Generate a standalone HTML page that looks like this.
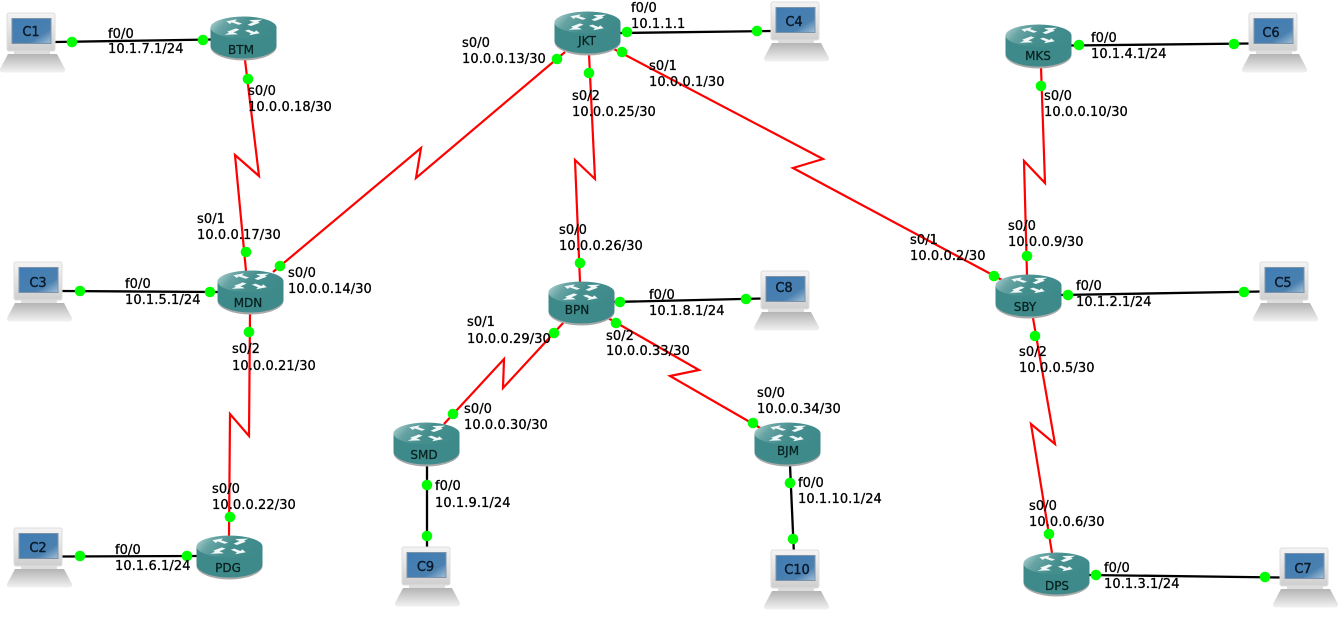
<!DOCTYPE html>
<html><head><meta charset="utf-8"><style>
html,body{margin:0;padding:0;background:#fff}
svg{display:block}
text{font-family:"DejaVu Sans","Liberation Sans",sans-serif;font-size:13px;fill:#000;stroke:#000;stroke-width:.3;letter-spacing:.08px}
.n{font-size:12px;text-anchor:middle;fill:#06201f;stroke:#06201f;stroke-width:.25;letter-spacing:0}
.c{font-size:13px;text-anchor:middle;fill:#0a1a2a;stroke:#0a1a2a;stroke-width:.4;letter-spacing:0}
.s{fill:none;stroke:#f00;stroke-width:2.2}
.e{stroke:#000;stroke-width:2.3}
.d circle{fill:#0f0}
</style></head><body>
<svg width="1344" height="628" viewBox="0 0 1344 628" xmlns="http://www.w3.org/2000/svg">
<defs>
<linearGradient id="top" x1="0" y1="0" x2="1" y2="0.3"><stop offset="0" stop-color="#bcdada"/><stop offset="0.28" stop-color="#68a4a4"/><stop offset="0.6" stop-color="#458e8e"/><stop offset="1" stop-color="#3f8b8b"/></linearGradient>
<linearGradient id="mon" x1="0" y1="0" x2="0" y2="1"><stop offset="0" stop-color="#f4f4f4"/><stop offset="1" stop-color="#cfcfcf"/></linearGradient>
<linearGradient id="base" x1="0" y1="0" x2="0" y2="1"><stop offset="0" stop-color="#b4b4b4"/><stop offset="1" stop-color="#f2f2f2"/></linearGradient>
<linearGradient id="scr" x1="0" y1="0" x2="1" y2="1"><stop offset="0" stop-color="#3f7cb4"/><stop offset="0.7" stop-color="#4a80b0"/><stop offset="1" stop-color="#a3c0d8"/></linearGradient>
<symbol id="r" width="67" height="46" viewBox="0 0 67 46" overflow="visible">
<path d="M0.5 11.500V31C0.5 38 15 44.500 33.500 44.500S66.500 38 66.500 31V11.500Z" fill="#a9a9a9"/>
<path d="M0.5 11.500V29.500C0.5 36.500 15 42.500 33.500 42.500S66.500 36.500 66.500 29.500V11.500Z" fill="#3e8a8a"/>
<ellipse cx="33.500" cy="11.500" rx="33" ry="11" fill="url(#top)"/>
<g transform="translate(4,0) scale(0.88 0.8)"><path d="M14 6.500L26 4L24 6.500L32 9.500L28 11L20 8L18 10ZM52 21.500L40 24L42 21.500L35 18.500L39 17L46 20L48 18ZM40 5L55 4.500L50 7L52 8.500L42 12.500L38 11L45 7.500L42 6.500ZM27 23L12 23.500L17 21L15 19.500L25 15.500L29 17L22 20.500L25 21.500Z" fill="#f2f8f8"/></g>
</symbol>
<symbol id="p" width="66" height="60" viewBox="0 0 66 60" overflow="visible">
<rect x="7" y="0" width="48" height="38" rx="2" fill="url(#mon)" stroke="#dedede"/>
<rect x="12" y="5.500" width="39" height="25" fill="url(#scr)" stroke="#7f93a8"/>
<rect x="14" y="38" width="36" height="4" fill="#dcdcdc"/>
<path d="M8 41H57L65 56Q65.500 59.500 62 59.500H3Q-0.500 59.500 0 56Z" fill="url(#base)"/>
</symbol>
</defs>

<g class="e">
<line x1="55" y1="42" x2="212" y2="39.500"/>
<line x1="620" y1="33" x2="772" y2="31"/>
<line x1="1070" y1="45.500" x2="1250" y2="43.500"/>
<line x1="62" y1="291" x2="218" y2="292"/>
<line x1="62" y1="556.500" x2="197" y2="556"/>
<line x1="612" y1="302" x2="762" y2="298.500"/>
<line x1="1060" y1="295" x2="1262" y2="291.500"/>
<line x1="1088" y1="575" x2="1282" y2="577.500"/>
<line x1="427" y1="466" x2="427" y2="552"/>
<line x1="790" y1="465" x2="794" y2="555"/>
</g>
<g class="s">
<polyline points="245,60 259,176 235,155 246,271"/>
<polyline points="565,52 416,178 421,148 273,272"/>
<polyline points="589,54 595,179 575,160 580,282"/>
<polyline points="612,48 823,159 793,168 1002,280"/>
<polyline points="1041,67 1045,183 1024,161 1027,275"/>
<polyline points="1033,318 1055,444 1031,424 1052,553"/>
<polyline points="250,313 249,436 230,414 229,536"/>
<polyline points="564,322 503,388 504,359 444,424"/>
<polyline points="608,318 699,370 670,376 762,429"/>
</g>

<use href="#p" x="0" y="13"/><text class="c" x="31" y="36">C1</text>
<use href="#p" x="7" y="262"/><text class="c" x="38" y="287">C3</text>
<use href="#p" x="7" y="528"/><text class="c" x="38" y="552">C2</text>
<use href="#p" x="764" y="2"/><text class="c" x="794" y="26">C4</text>
<use href="#p" x="1242" y="13"/><text class="c" x="1271" y="37">C6</text>
<use href="#p" x="754" y="271"/><text class="c" x="784" y="292">C8</text>
<use href="#p" x="1253" y="262"/><text class="c" x="1283" y="287">C5</text>
<use href="#p" x="395" y="547"/><text class="c" x="425.500" y="571">C9</text>
<use href="#p" x="764" y="550"/><text class="c" x="797" y="574">C10</text>
<use href="#p" x="1273" y="548"/><text class="c" x="1303" y="573">C7</text>

<use href="#r" x="210" y="16"/><text class="n" x="241" y="54">BTM</text>
<use href="#r" x="554" y="11"/><text class="n" x="587" y="45">JKT</text>
<use href="#r" x="1005" y="24"/><text class="n" x="1038" y="60">MKS</text>
<use href="#r" x="217" y="270"/><text class="n" x="248" y="307">MDN</text>
<use href="#r" x="548" y="281"/><text class="n" x="577" y="314">BPN</text>
<use href="#r" x="995" y="274"/><text class="n" x="1025" y="311">SBY</text>
<use href="#r" x="393" y="422"/><text class="n" x="424" y="459">SMD</text>
<use href="#r" x="754" y="422"/><text class="n" x="788" y="455">BJM</text>
<use href="#r" x="196" y="535"/><text class="n" x="228" y="572">PDG</text>
<use href="#r" x="1023" y="552"/><text class="n" x="1057" y="590">DPS</text>

<g class="d">
<circle cx="72" cy="42" r="5.300"/><circle cx="203" cy="40" r="5.300"/><circle cx="248" cy="79" r="5.300"/><circle cx="246" cy="252" r="5.300"/>
<circle cx="557" cy="59" r="5.300"/><circle cx="280" cy="266" r="5.300"/><circle cx="589" cy="73" r="5.300"/><circle cx="580" cy="263" r="5.300"/>
<circle cx="622" cy="52" r="5.300"/><circle cx="994" cy="276" r="5.300"/><circle cx="627" cy="32" r="5.300"/><circle cx="757" cy="31" r="5.300"/>
<circle cx="1079" cy="45" r="5.300"/><circle cx="1234" cy="44" r="5.300"/><circle cx="1041" cy="86" r="5.300"/><circle cx="1027" cy="256" r="5.300"/>
<circle cx="80" cy="291" r="5.300"/><circle cx="210" cy="292" r="5.300"/><circle cx="249" cy="332" r="5.300"/><circle cx="230" cy="517" r="5.300"/>
<circle cx="80" cy="556" r="5.300"/><circle cx="187" cy="556" r="5.300"/><circle cx="620" cy="302" r="5.300"/><circle cx="746" cy="299" r="5.300"/>
<circle cx="554" cy="333" r="5.300"/><circle cx="453" cy="414" r="5.300"/><circle cx="616" cy="323" r="5.300"/><circle cx="753" cy="423" r="5.300"/>
<circle cx="427" cy="485" r="5.300"/><circle cx="427" cy="536" r="5.300"/><circle cx="790" cy="483" r="5.300"/><circle cx="793" cy="539" r="5.300"/>
<circle cx="1068" cy="295" r="5.300"/><circle cx="1244" cy="292" r="5.300"/><circle cx="1035" cy="336" r="5.300"/><circle cx="1049" cy="534" r="5.300"/>
<circle cx="1096" cy="575" r="5.300"/><circle cx="1265" cy="577" r="5.300"/>
</g>

<g>
<text x="108" y="38">f0/0</text><text x="108" y="53">10.1.7.1/24</text>
<text x="248" y="95">s0/0</text><text x="248" y="111">10.0.0.18/30</text>
<text x="462" y="47">s0/0</text><text x="462" y="63">10.0.0.13/30</text>
<text x="631" y="12">f0/0</text><text x="631" y="28">10.1.1.1</text>
<text x="649" y="70">s0/1</text><text x="649" y="86">10.0.0.1/30</text>
<text x="572" y="100">s0/2</text><text x="572" y="116">10.0.0.25/30</text>
<text x="1091" y="42">f0/0</text><text x="1091" y="58">10.1.4.1/24</text>
<text x="1044" y="100">s0/0</text><text x="1044" y="116">10.0.0.10/30</text>
<text x="197" y="223">s0/1</text><text x="197" y="239">10.0.0.17/30</text>
<text x="125" y="288">f0/0</text><text x="125" y="304">10.1.5.1/24</text>
<text x="288" y="277">s0/0</text><text x="288" y="293">10.0.0.14/30</text>
<text x="232" y="353">s0/2</text><text x="232" y="370">10.0.0.21/30</text>
<text x="559" y="234">s0/0</text><text x="559" y="250">10.0.0.26/30</text>
<text x="649" y="299">f0/0</text><text x="649" y="315">10.1.8.1/24</text>
<text x="467" y="326">s0/1</text><text x="467" y="343">10.0.0.29/30</text>
<text x="606" y="340">s0/2</text><text x="606" y="355">10.0.0.33/30</text>
<text x="910" y="244">s0/1</text><text x="910" y="260">10.0.0.2/30</text>
<text x="1008" y="230">s0/0</text><text x="1008" y="246">10.0.0.9/30</text>
<text x="1076" y="290">f0/0</text><text x="1076" y="306">10.1.2.1/24</text>
<text x="1019" y="356">s0/2</text><text x="1019" y="372">10.0.0.5/30</text>
<text x="464" y="413">s0/0</text><text x="464" y="429">10.0.0.30/30</text>
<text x="435" y="490">f0/0</text><text x="435" y="507">10.1.9.1/24</text>
<text x="757" y="397">s0/0</text><text x="757" y="413">10.0.0.34/30</text>
<text x="798" y="487">f0/0</text><text x="798" y="503">10.1.10.1/24</text>
<text x="212" y="493">s0/0</text><text x="212" y="509">10.0.0.22/30</text>
<text x="115" y="554">f0/0</text><text x="115" y="570">10.1.6.1/24</text>
<text x="1029" y="510">s0/0</text><text x="1029" y="526">10.0.0.6/30</text>
<text x="1104" y="572">f0/0</text><text x="1104" y="588">10.1.3.1/24</text>
</g>
</svg>
</body></html>
